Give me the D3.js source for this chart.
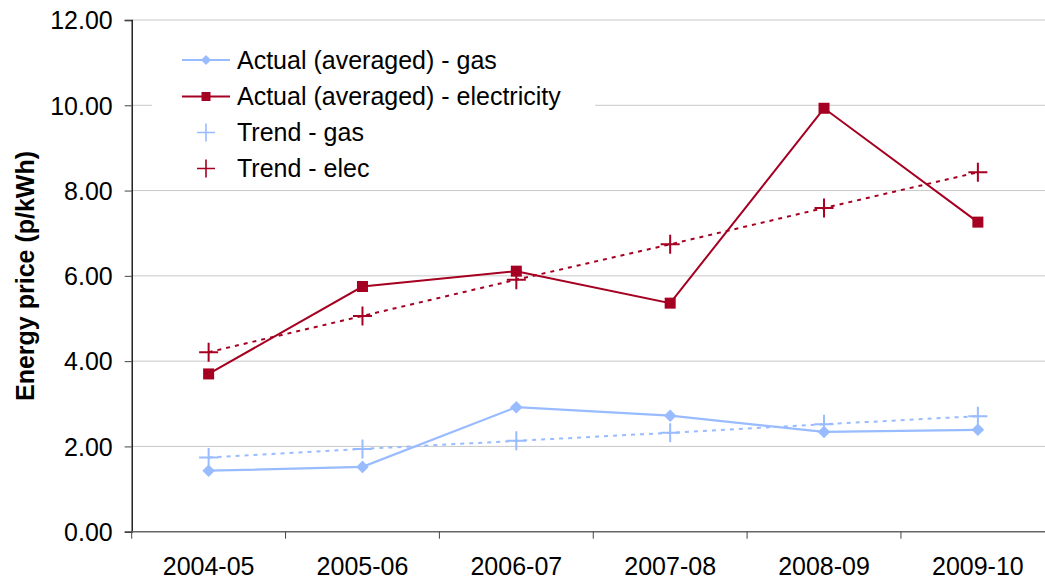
<!DOCTYPE html>
<html><head><meta charset="utf-8">
<script src="https://cdn.jsdelivr.net/npm/d3@7"></script>
<style>body{margin:0;background:#fff}svg{display:block}text{font-family:"Liberation Sans",Arial,sans-serif}</style>
</head><body><svg id="c" width="1045" height="581"></svg>
<script>
const categories = ["2004-05","2005-06","2006-07","2007-08","2008-09","2009-10"];
const gasActual = [1.43, 1.52, 2.92, 2.72, 2.34, 2.39];
const elecActual = [3.70, 5.75, 6.11, 5.36, 9.93, 7.26];
const gasTrend = [1.74, 1.94, 2.13, 2.32, 2.52, 2.71];
const elecTrend = [4.21, 5.06, 5.91, 6.74, 7.59, 8.43];
const yTicks = [0, 2, 4, 6, 8, 10, 12];
const seriesNames = ["Actual (averaged) - gas","Actual (averaged) - electricity","Trend - gas","Trend - elec"];
const gasColor = "#99BBFF", elecColor = "#A50021";
const FS = 25;

const svg = d3.select("#c");
const mLeft = 131.7, mTop = 20, mBottom = 531.7, band = 153.85;
const x = d3.scaleBand().domain(categories).range([mLeft, mLeft + band*categories.length]);
const y = d3.scaleLinear().domain([0, 12]).range([mBottom, mTop]);

// gridlines
svg.append("g").selectAll("line").data(yTicks.filter(d=>d>0)).join("line")
  .attr("x1", mLeft).attr("x2", 1045).attr("y1", d=>y(d)).attr("y2", d=>y(d))
  .attr("stroke", "#C8C8C8").attr("stroke-width", 1);

// y axis
const ya = svg.append("g").attr("transform", `translate(${mLeft},0)`)
  .call(d3.axisLeft(y).tickValues(yTicks).tickFormat(d3.format(".2f")).tickSize(7).tickPadding(12));
ya.select(".domain").attr("stroke", "#000").attr("stroke-width", 1.3);
ya.selectAll(".tick line").attr("stroke", "#444");
ya.selectAll("text").attr("font-size", FS).attr("fill", "#000").attr("dy", "0.35em");

// x axis
const xa = svg.append("g").attr("transform", `translate(0,${mBottom})`)
  .call(d3.axisBottom(x).tickSize(0));
xa.select(".domain").attr("d", `M${mLeft},0H1045`).attr("stroke", "#666").attr("stroke-width", 1.5);
xa.selectAll("text").attr("font-size", FS).attr("fill", "#000").attr("y", 35).attr("dy", "0.35em");
svg.append("g").selectAll("line").data(d3.range(categories.length)).join("line")
  .attr("x1", i => x.range()[0] + i*x.step()).attr("x2", i => x.range()[0] + i*x.step())
  .attr("y1", mBottom).attr("y2", mBottom + 7).attr("stroke", "#444").attr("stroke-width", 1);

// y title
svg.append("text").attr("transform", "translate(34,276) rotate(-90)")
  .attr("text-anchor", "middle").attr("font-size", 25).attr("font-weight", "bold")
  .text("Energy price (p/kWh)");

const cx = d => x(d) + x.bandwidth()/2;
const line = d3.line().x((d,i)=>cx(categories[i])).y(d=>y(d));

// trend lines dashed
function trend(vals, color) {
  svg.append("path").datum(vals).attr("d", line).attr("fill", "none")
    .attr("stroke", color).attr("stroke-width", 2).attr("stroke-dasharray", "4,5");
  svg.append("g").selectAll("path").data(vals).join("path")
    .attr("d", (d,i)=>{const X=cx(categories[i]), Y=y(d); return `M${X-9.5},${Y}H${X+9.5}M${X},${Y-9.5}V${Y+9.5}`;})
    .attr("stroke", color).attr("stroke-width", 2).attr("fill", "none");
}
trend(gasTrend, gasColor);
trend(elecTrend, elecColor);

// actual lines
svg.append("path").datum(gasActual).attr("d", line).attr("fill","none").attr("stroke", gasColor).attr("stroke-width", 2.2);
svg.append("g").selectAll("path").data(gasActual).join("path")
  .attr("d", d3.symbol(d3.symbolDiamond2, 100)())
  .attr("transform", (d,i)=>`translate(${cx(categories[i])},${y(d)})`).attr("fill", gasColor);
svg.append("path").datum(elecActual).attr("d", line).attr("fill","none").attr("stroke", elecColor).attr("stroke-width", 2);
svg.append("g").selectAll("rect").data(elecActual).join("rect")
  .attr("x", (d,i)=>cx(categories[i])-5.5).attr("y", d=>y(d)-5.5).attr("width", 11).attr("height", 11)
  .attr("fill", elecColor);

// legend
const lg = svg.append("g");
lg.append("rect").attr("x", 152).attr("y", 40).attr("width", 443).attr("height", 145).attr("fill", "#fff");
const rowsY = [60, 96.5, 132.5, 168.5];
const lcol = [gasColor, elecColor, gasColor, elecColor];
seriesNames.forEach((name, i) => {
  const Y = rowsY[i];
  if (i < 2) {
    lg.append("line").attr("x1", 182).attr("x2", 230).attr("y1", Y).attr("y2", Y)
      .attr("stroke", lcol[i]).attr("stroke-width", 2);
    if (i === 0) lg.append("path").attr("d", d3.symbol(d3.symbolDiamond2, 64)())
      .attr("transform", `translate(206,${Y})`).attr("fill", lcol[i]);
    else lg.append("rect").attr("x", 201.5).attr("y", Y-4.5).attr("width", 9).attr("height", 9).attr("fill", lcol[i]);
  } else {
    lg.append("path").attr("d", `M${197},${Y}H${215}M206,${Y-9}V${Y+9}`)
      .attr("stroke", lcol[i]).attr("stroke-width", 1.6).attr("fill","none");
  }
  lg.append("text").attr("x", 237).attr("y", Y).attr("dy", "0.35em").attr("font-size", FS).text(name);
});
</script></body></html>
